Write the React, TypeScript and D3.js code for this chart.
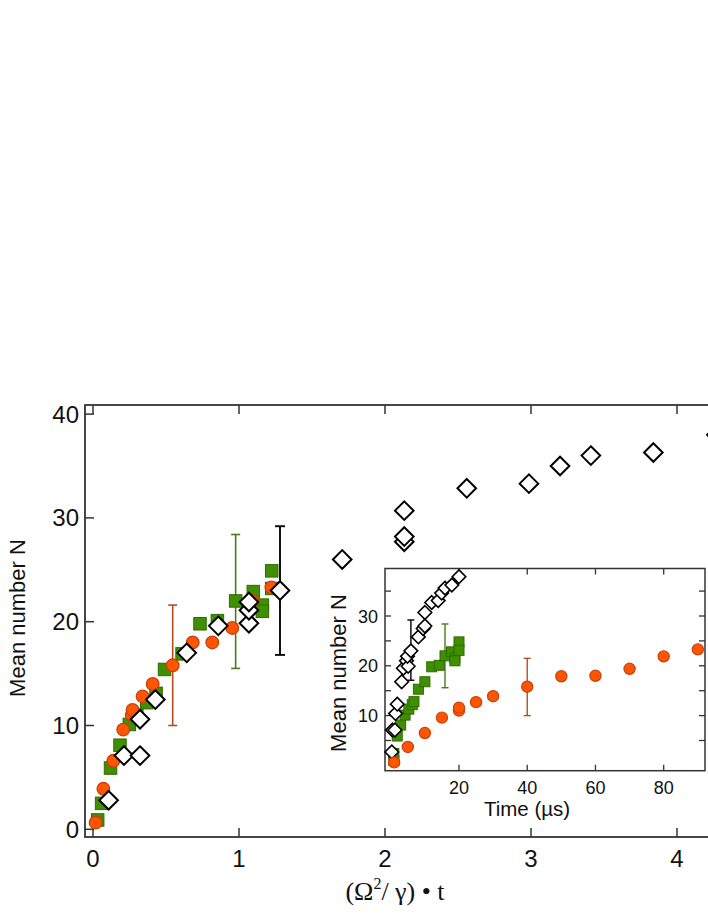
import React from "react";
import * as d3 from "d3";

// ---------- Main plot data ----------
const mainTicksX = [0, 1, 2, 3, 4];
const mainTicksY = [0, 10, 20, 30, 40];

const mainSquareX = [0.032, 0.059, 0.12, 0.185, 0.249, 0.30, 0.368, 0.432, 0.49, 0.61, 0.733, 0.852, 0.977, 1.098, 1.16, 1.16, 1.224, 1.224];
const mainSquareN = [0.9, 2.5, 5.9, 8.1, 10.1, 11.0, 12.2, 13.1, 15.4, 16.9, 19.8, 20.1, 22.0, 22.9, 21.6, 21.0, 24.9, 23.2];

const mainCircleX = [0.018, 0.071, 0.139, 0.207, 0.265, 0.271, 0.34, 0.409, 0.546, 0.683, 0.817, 0.954, 1.091, 1.222];
const mainCircleN = [0.64, 3.9, 6.6, 9.6, 11.0, 11.5, 12.8, 14.0, 15.8, 18.0, 18.0, 19.4, 22.0, 23.3];

const mainDiamondX = [0.107, 0.212, 0.322, 0.322, 0.427, 0.642, 0.858, 1.068, 1.068, 1.068, 1.281, 1.707, 2.132, 2.132, 2.132, 2.56, 2.986, 3.199, 3.41, 3.838, 4.27];
const mainDiamondN = [2.8, 7.1, 7.1, 10.6, 12.5, 17.0, 19.6, 19.85, 21.1, 21.9, 23.0, 26.0, 27.7, 28.2, 30.7, 32.85, 33.3, 35.0, 36.0, 36.3, 38.0];

// error bars: [x, low, high]
const mainErrCircle = [0.546, 10.0, 21.6];
const mainErrSquare = [0.977, 15.5, 28.4];
const mainErrDiamond = [1.281, 16.8, 29.2];

// ---------- Inset data ----------
const insetTicksX = [20, 40, 60, 80];
const insetTicksYMajor = [10, 20, 30];
const insetTicksYMinor = [5, 15, 25, 35];

const insetCircleT = [1, 5, 10, 15, 20, 20, 25, 30, 40, 50, 60, 70, 80, 90];
const insetCircleN = [0.6, 3.7, 6.5, 9.6, 11.0, 11.6, 12.7, 13.9, 15.8, 17.9, 18.0, 19.4, 21.9, 23.3];

const insetSquareT = [0.9, 0.9, 1.9, 2.9, 4.2, 5.3, 6.3, 6.8, 8.1, 10, 12, 14.2, 15.9, 17.8, 18.8, 18.8, 20, 20];
const insetSquareN = [1.0, 2.4, 5.9, 8.1, 10.1, 11.3, 12.2, 12.8, 15.3, 16.8, 19.8, 20.1, 22.0, 22.8, 21.6, 21.0, 24.8, 23.1];

const insetDiamondT = [0.3, 0.5, 1.2, 1.4, 1.9, 3.2, 3.7, 4.6, 5.1, 4.9, 5.9, 8.1, 9.5, 10.0, 10.0, 12.0, 13.9, 14.9, 15.9, 17.9, 20.0];
const insetDiamondN = [2.7, 7.1, 7.1, 10.4, 12.3, 16.8, 19.5, 21.0, 19.9, 21.9, 23.0, 25.8, 27.5, 28.0, 30.7, 32.7, 33.1, 34.6, 35.6, 36.2, 37.9];

const insetErrCircle = [40, 10.0, 21.5];
const insetErrSquare = [15.9, 15.6, 28.4];
const insetErrDiamond = [5.9, 17.1, 29.2];

// ---------- Styles ----------
const SANS = "'Liberation Sans', Arial, Helvetica, sans-serif";
const SERIF = "'Liberation Serif', 'Times New Roman', serif";
const ORANGE_FILL = "#ff5500";
const ORANGE_STROKE = "#c8400a";
const GREEN_FILL = "#3f8f00";
const GREEN_STROKE = "#2f6c00";
const AXIS = "#333";

function ErrBar({ x, y0, y1, color, width, cap }: { x: number; y0: number; y1: number; color: string; width: number; cap: number }) {
  return (
    <g stroke={color} strokeWidth={width}>
      <line x1={x} x2={x} y1={y0} y2={y1} />
      <line x1={x - cap} x2={x + cap} y1={y0} y2={y0} />
      <line x1={x - cap} x2={x + cap} y1={y1} y2={y1} />
    </g>
  );
}

export default function App() {
  // Main scales
  const x = d3.scaleLinear().domain([0, 4]).range([93, 677]);
  const y = d3.scaleLinear().domain([0, 40]).range([829.3, 414.1]);
  const mL = 85, mT = 405, mB = 837, mR = 760;

  // Inset scales
  const xi = d3.scaleLinear().domain([20, 80]).range([459, 663.7]);
  const yi = d3.scaleLinear().domain([10, 30]).range([715.6, 616]);
  const iL = 385, iT = 568.5, iR = 705, iB = 770.7;

  const mainSq = 12.5, mainR = 6.3, mainD = 9.3;
  const inSq = 10, inR = 5.6, inD = 6.8;

  const diamond = (cx: number, cy: number, r: number) =>
    `M${cx},${cy - r}L${cx + r},${cy}L${cx},${cy + r}L${cx - r},${cy}Z`;

  return (
    <svg
      width={708}
      height={917}
      style={{ position: "absolute", left: 0, top: 0, background: "#fff", overflow: "hidden" }}
    >
      <rect x={0} y={0} width={708} height={917} fill="#fff" />

      {/* ---------- Main plot ---------- */}
      <rect x={mL} y={mT} width={mR - mL} height={mB - mT} fill="none" stroke={AXIS} strokeWidth={1.8} />
      {mainTicksX.map((t) => (
        <g key={"mx" + t} stroke={AXIS} strokeWidth={1.5}>
          <line x1={x(t)} x2={x(t)} y1={mB} y2={mB - 9} />
          <line x1={x(t)} x2={x(t)} y1={mT} y2={mT + 9} />
        </g>
      ))}
      {mainTicksY.map((t) => (
        <line key={"my" + t} x1={mL} x2={mL + 9} y1={y(t)} y2={y(t)} stroke={AXIS} strokeWidth={1.5} />
      ))}
      {mainTicksX.map((t) => (
        <text key={"mxl" + t} x={x(t)} y={867} textAnchor="middle" fontFamily={SANS} fontSize={24} fill="#111">
          {t}
        </text>
      ))}
      {mainTicksY.map((t) => (
        <text key={"myl" + t} x={79} y={y(t) + 8.5} textAnchor="end" fontFamily={SANS} fontSize={24} fill="#111">
          {t}
        </text>
      ))}
      <text
        transform={`translate(25,618) rotate(-90)`}
        textAnchor="middle"
        fontFamily={SANS}
        fontSize={22}
        fill="#111"
      >
        Mean number N
      </text>
      <text x={395} y={900} textAnchor="middle" fontFamily={SERIF} fontSize={26} fill="#111">
        (Ω<tspan fontSize={16} dy={-11}>2</tspan>
        <tspan dy={11}>/ γ) • t</tspan>
      </text>

      <ErrBar x={x(mainErrCircle[0])} y0={y(mainErrCircle[1])} y1={y(mainErrCircle[2])} color="#b5501e" width={1.6} cap={4.5} />
      <ErrBar x={x(mainErrSquare[0])} y0={y(mainErrSquare[1])} y1={y(mainErrSquare[2])} color="#4a7a1c" width={1.6} cap={4.5} />
      <ErrBar x={x(mainErrDiamond[0])} y0={y(mainErrDiamond[1])} y1={y(mainErrDiamond[2])} color="#111" width={2} cap={5} />

      {mainSquareX.map((v, i) => (
        <rect
          key={"ms" + i}
          x={x(v) - mainSq / 2}
          y={y(mainSquareN[i]) - mainSq / 2}
          width={mainSq}
          height={mainSq}
          fill={GREEN_FILL}
          stroke={GREEN_STROKE}
          strokeWidth={1}
        />
      ))}
      {mainCircleX.map((v, i) => (
        <circle key={"mc" + i} cx={x(v)} cy={y(mainCircleN[i])} r={mainR} fill={ORANGE_FILL} stroke={ORANGE_STROKE} strokeWidth={1.3} />
      ))}
      {mainDiamondX.map((v, i) => (
        <path key={"md" + i} d={diamond(x(v), y(mainDiamondN[i]), mainD)} fill="#fff" stroke="#000" strokeWidth={2} />
      ))}

      {/* ---------- Inset ---------- */}
      <rect x={iL} y={iT} width={iR - iL} height={iB - iT} fill="#fff" stroke={AXIS} strokeWidth={1.5} />
      {insetTicksX.map((t) => (
        <g key={"ix" + t} stroke={AXIS} strokeWidth={1.3}>
          <line x1={xi(t)} x2={xi(t)} y1={iB} y2={iB - 6} />
          <line x1={xi(t)} x2={xi(t)} y1={iT} y2={iT + 6} />
        </g>
      ))}
      {[...insetTicksYMajor, ...insetTicksYMinor].map((t) => (
        <g key={"iy" + t} stroke={AXIS} strokeWidth={1.3}>
          <line x1={iL} x2={iL + 6} y1={yi(t)} y2={yi(t)} />
          <line x1={iR} x2={iR - 6} y1={yi(t)} y2={yi(t)} />
        </g>
      ))}
      {insetTicksX.map((t) => (
        <text key={"ixl" + t} x={xi(t)} y={794} textAnchor="middle" fontFamily={SANS} fontSize={18} fill="#111">
          {t}
        </text>
      ))}
      {insetTicksYMajor.map((t) => (
        <text key={"iyl" + t} x={378} y={yi(t) + 6.5} textAnchor="end" fontFamily={SANS} fontSize={18} fill="#111">
          {t}
        </text>
      ))}
      <text x={527} y={816} textAnchor="middle" fontFamily={SANS} fontSize={20.5} fill="#111">
        Time (µs)
      </text>
      <text
        transform={`translate(346,673) rotate(-90)`}
        textAnchor="middle"
        fontFamily={SANS}
        fontSize={22}
        fill="#111"
      >
        Mean number N
      </text>

      <ErrBar x={xi(insetErrCircle[0])} y0={yi(insetErrCircle[1])} y1={yi(insetErrCircle[2])} color="#b5501e" width={1.4} cap={3.5} />
      <ErrBar x={xi(insetErrSquare[0])} y0={yi(insetErrSquare[1])} y1={yi(insetErrSquare[2])} color="#4a7a1c" width={1.4} cap={3.5} />
      <ErrBar x={xi(insetErrDiamond[0])} y0={yi(insetErrDiamond[1])} y1={yi(insetErrDiamond[2])} color="#111" width={1.5} cap={3.5} />

      {insetSquareT.map((v, i) => (
        <rect
          key={"is" + i}
          x={xi(v) - inSq / 2}
          y={yi(insetSquareN[i]) - inSq / 2}
          width={inSq}
          height={inSq}
          fill={GREEN_FILL}
          stroke={GREEN_STROKE}
          strokeWidth={1}
        />
      ))}
      {insetDiamondT.map((v, i) => (
        <path key={"id" + i} d={diamond(xi(v), yi(insetDiamondN[i]), inD)} fill="#fff" stroke="#000" strokeWidth={1.6} />
      ))}
      {insetCircleT.map((v, i) => (
        <circle key={"ic" + i} cx={xi(v)} cy={yi(insetCircleN[i])} r={inR} fill={ORANGE_FILL} stroke={ORANGE_STROKE} strokeWidth={1.2} />
      ))}
    </svg>
  );
}
